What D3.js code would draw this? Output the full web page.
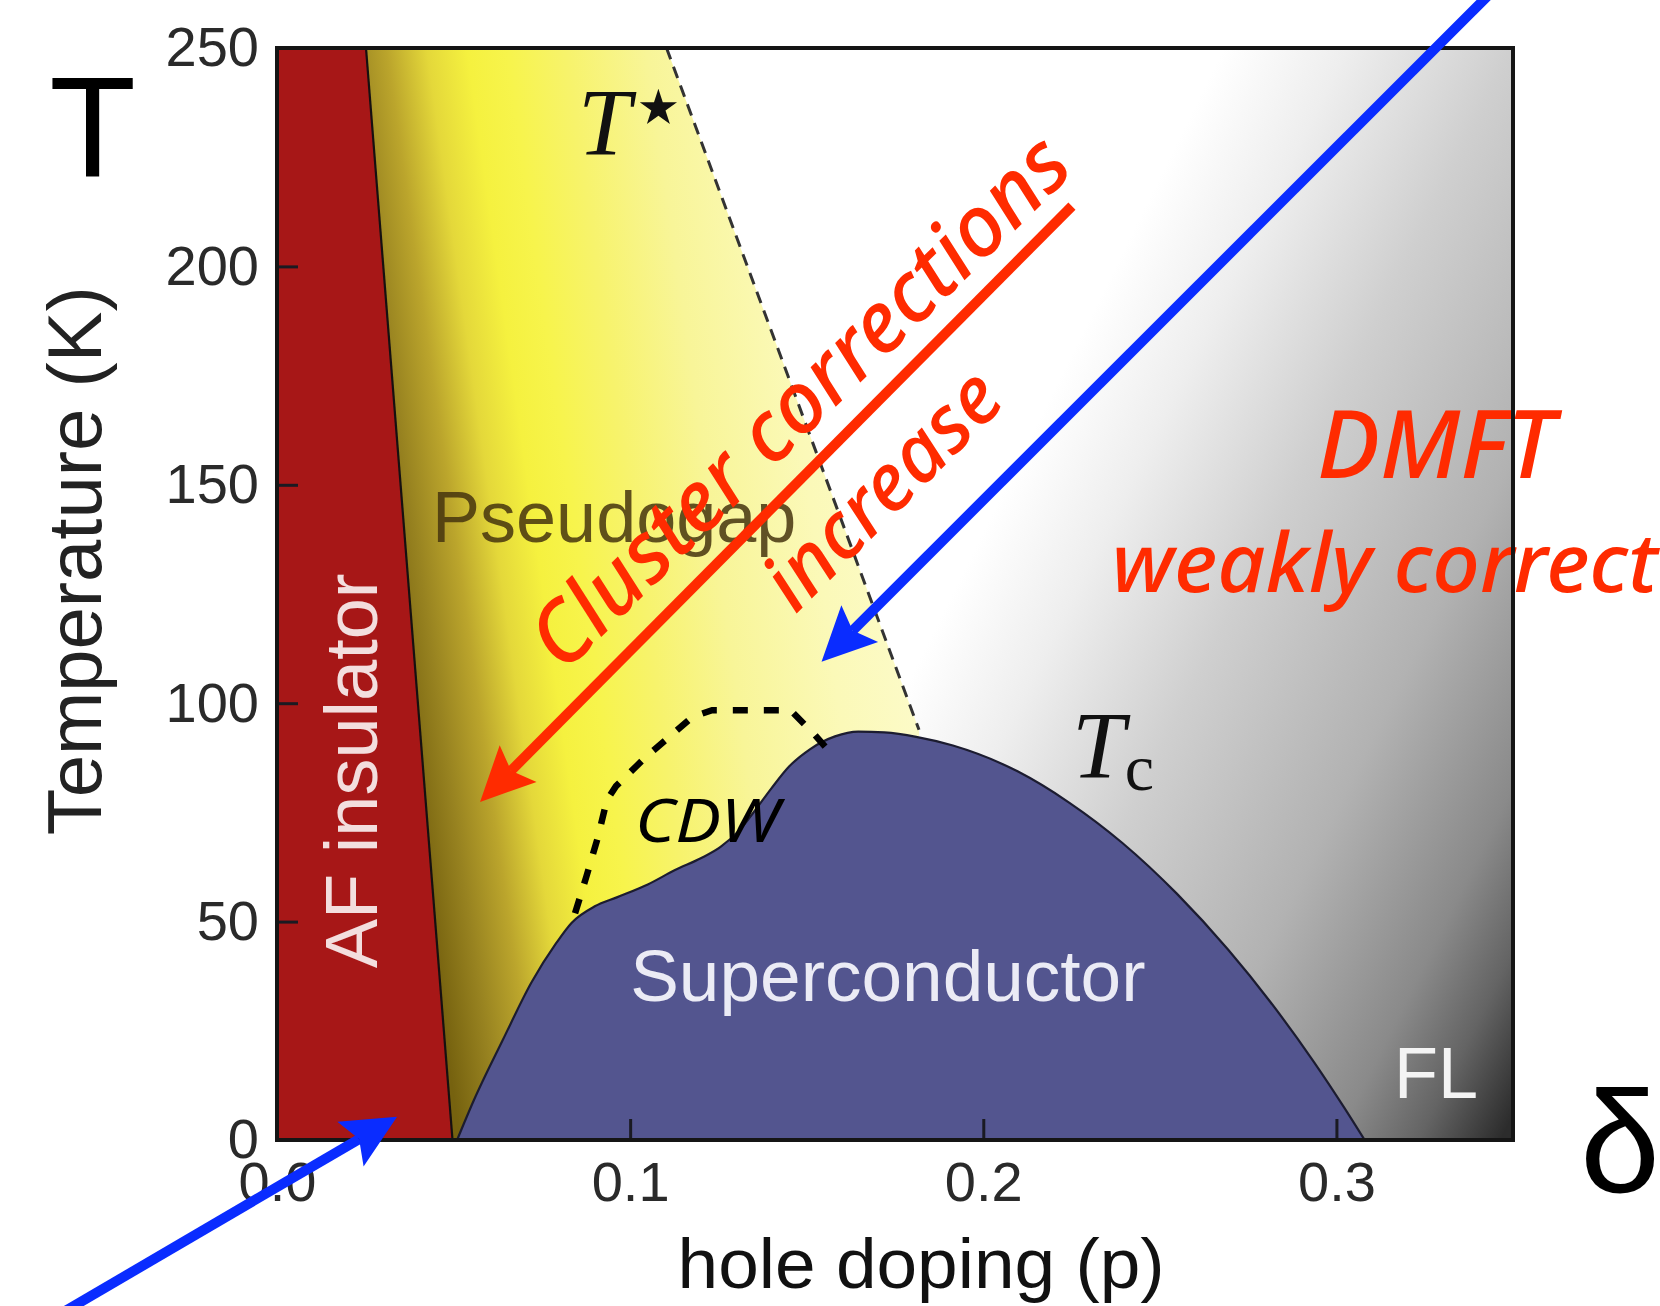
<!DOCTYPE html>
<html>
<head>
<meta charset="utf-8">
<script src="https://cdn.jsdelivr.net/npm/d3@7"></script>
<style>
  html, body { margin: 0; padding: 0; background: #ffffff; overflow: hidden; }
  svg { display: block; }
</style>
</head>
<body>
<svg id="chart" width="1660" height="1306"></svg>
<script>
// ---- Cuprate phase diagram: hole doping p vs temperature T (K) ----
const pDomain = [0, 0.35];
const tDomain = [0, 250];
const pTicks = [0, 0.1, 0.2, 0.3];
const pMinorTicks = [0.05, 0.15, 0.25];
const tTicks = [0, 50, 100, 150, 200, 250];
const tMinorTicks = [25, 75, 125, 175, 225];

// Antiferromagnetic insulator boundary (p, T)
const afBoundary = [[0.0252, 250], [0.0497, 0]];
// Pseudogap crossover T* (dashed)
const tStarLine = [[0.1103, 250], [0.1818, 93.9]];
// Superconducting dome Tc(p)
const tcDome = [
  [0.0510, 0], [0.0558, 9.2], [0.0640, 23.0], [0.0720, 36.0], [0.0790, 45.0],
  [0.0834, 49.7], [0.0900, 53.5], [0.0964, 55.6], [0.1050, 58.5], [0.1127, 61.8],
  [0.1200, 64.5], [0.1256, 67.1], [0.1310, 71.0], [0.1354, 75.5], [0.1400, 80.5],
  [0.1450, 85.5], [0.1510, 89.5], [0.1580, 92.4], [0.1646, 93.5], [0.1720, 93.3],
  [0.1810, 92.3], [0.1914, 90.3], [0.2097, 84.4], [0.2244, 77.2], [0.2394, 68.0],
  [0.2548, 56.4], [0.2693, 43.6], [0.2813, 31.6], [0.2936, 17.9], [0.3023, 7.3],
  [0.3080, 0]
];
// Charge density wave region boundary (dashed)
const cdwLine = [
  [0.0844, 51.9], [0.0876, 60.3], [0.0909, 69.4], [0.0934, 77.8], [0.0960, 81.0],
  [0.1042, 87.5], [0.1177, 96.9], [0.1232, 98.4], [0.1454, 98.4], [0.1519, 93.1],
  [0.1560, 89.3]
];
// Annotation arrows: [start, tip] in (p, T)
const clusterArrow = [[0.2251, 213.8], [0.0575, 77.4]];
const dmftArrow = [[0.3474, 265.6], [0.1542, 109.5]];
const afArrow = [[-0.0643, -41.2], [0.0340, 5.3]];

// ---- layout ----
const plot = { left: 277, top: 48, right: 1513, bottom: 1140 };
const x = d3.scaleLinear().domain(pDomain).range([plot.left, plot.right]);
const y = d3.scaleLinear().domain(tDomain).range([plot.bottom, plot.top]);

const SANS = "'Liberation Sans', Arial, Helvetica, sans-serif";
const SERIF = "'Liberation Serif', 'Times New Roman', serif";
const HUMAN = "'Noto Sans', 'Open Sans', sans-serif";
const RED = "#ff2b00";
const BLUE = "#0a2cff";

const svg = d3.select("#chart");
const defs = svg.append("defs");

defs.append("clipPath").attr("id", "plotClip")
  .append("rect")
  .attr("x", plot.left).attr("y", plot.top)
  .attr("width", plot.right - plot.left).attr("height", plot.bottom - plot.top);

// Fermi-liquid side: white fading to dark grey toward high doping / low T
const fermiGrad = defs.append("linearGradient").attr("id", "fermiGrad")
  .attr("gradientUnits", "userSpaceOnUse")
  .attr("x1", x(0.1760)).attr("y1", y(100.5))
  .attr("x2", x(0.3622)).attr("y2", y(25.4));
[[0, "#ffffff"], [0.15, "#eeeeee"], [0.35, "#cfcfcf"], [0.6, "#b2b2b2"],
 [0.8, "#8a8a8a"], [0.9, "#646464"], [1, "#2c2c2c"]]
  .forEach(([o, c]) => fermiGrad.append("stop").attr("offset", o).attr("stop-color", c));

// Pseudogap: dark olive at the AF edge, bright yellow, fading to pale
const pgGrad = defs.append("linearGradient").attr("id", "pgGrad")
  .attr("gradientUnits", "userSpaceOnUse")
  .attr("x1", x(0.0065)).attr("y1", y(261))
  .attr("x2", x(0.1732)).attr("y2", y(279.9));
[[0, "#76620f"], [0.0667, "#978220"], [0.133, "#bba52c"], [0.2, "#e4d83a"],
 [0.267, "#f5f13f"], [0.333, "#f7f44c"], [0.433, "#f7f36c"], [0.567, "#f8f598"],
 [0.733, "#fbf9b8"], [1, "#fdfcd8"]]
  .forEach(([o, c]) => pgGrad.append("stop").attr("offset", o).attr("stop-color", c));

const px = d => x(d[0]);
const py = d => y(d[1]);
const line = d3.line().x(px).y(py);

// ---- regions ----
const regions = svg.append("g").attr("clip-path", "url(#plotClip)");

regions.append("rect")
  .attr("x", plot.left).attr("y", plot.top)
  .attr("width", plot.right - plot.left).attr("height", plot.bottom - plot.top)
  .attr("fill", "url(#fermiGrad)");

const pgPoly = [afBoundary[0], tStarLine[0], tStarLine[1], [tStarLine[1][0], 0], afBoundary[1]];
regions.append("path").attr("d", line(pgPoly) + "Z").attr("fill", "url(#pgGrad)");

const dome = d3.area().x(px).y0(y(0)).y1(py).curve(d3.curveMonotoneX);
regions.append("path").datum(tcDome).attr("d", dome).attr("fill", "#53558f");

const afPoly = [[0, 0], [0, 250], afBoundary[0], afBoundary[1]];
regions.append("path").attr("d", line(afPoly) + "Z").attr("fill", "#a71717");

regions.append("path").datum(afBoundary).attr("d", line)
  .attr("fill", "none").attr("stroke", "#161010").attr("stroke-width", 2.2);

regions.append("path").datum(tcDome)
  .attr("d", d3.line().x(px).y(py).curve(d3.curveMonotoneX))
  .attr("fill", "none").attr("stroke", "#1c1c30").attr("stroke-width", 2.2);

regions.append("path").datum(tStarLine).attr("d", line)
  .attr("fill", "none").attr("stroke", "#333333").attr("stroke-width", 3)
  .attr("stroke-dasharray", "12,8");

regions.append("path").datum(cdwLine).attr("d", line)
  .attr("fill", "none").attr("stroke", "#000").attr("stroke-width", 6.5)
  .attr("stroke-dasharray", "15,16");

// ---- region labels ----
const labels = svg.append("g");

labels.append("text")
  .attr("x", x(0.0439)).attr("y", y(136.9))
  .attr("font-family", SANS).attr("font-size", 72)
  .attr("fill", "#45340e").attr("fill-opacity", 0.85)
  .text("Pseudogap");

labels.append("text")
  .attr("transform", `translate(${x(0.0283)},${y(84.5)}) rotate(-90)`)
  .attr("text-anchor", "middle")
  .attr("font-family", SANS).attr("font-size", 74)
  .attr("fill", "#f3dede")
  .text("AF insulator");

labels.append("text")
  .attr("x", x(0.1000)).attr("y", y(31.8))
  .attr("font-family", SANS).attr("font-size", 73)
  .attr("fill", "#ebebf5")
  .text("Superconductor");

labels.append("text")
  .attr("x", x(0.3163)).attr("y", y(9.6))
  .attr("font-family", SANS).attr("font-size", 72)
  .attr("fill", "#f4f4f4")
  .text("FL");

labels.append("text")
  .attr("x", x(0.0852)).attr("y", y(225.5))
  .attr("font-family", SERIF).attr("font-style", "italic").attr("font-size", 95)
  .attr("fill", "#111")
  .text("T");
labels.append("path")
  .attr("transform", `translate(${x(0.1080)},${y(236.2)})`)
  .attr("d", d3.symbol().type(d3.symbolStar).size(430)())
  .attr("fill", "#111");

const tc = labels.append("text")
  .attr("x", x(0.2251)).attr("y", y(82.9))
  .attr("font-family", SERIF).attr("fill", "#111");
tc.append("tspan").attr("font-style", "italic").attr("font-size", 95).text("T");
tc.append("tspan").attr("font-size", 66).attr("dy", 12).text("c");

labels.append("text")
  .attr("x", x(0.1014)).attr("y", y(68.2))
  .attr("font-family", HUMAN).attr("font-style", "italic").attr("font-size", 60)
  .attr("textLength", 144).attr("lengthAdjust", "spacingAndGlyphs")
  .attr("fill", "#000")
  .text("CDW");

// ---- DMFT annotation ----
labels.append("text")
  .attr("x", x(0.2945)).attr("y", y(151.6))
  .attr("font-family", HUMAN).attr("font-style", "italic").attr("font-weight", 500)
  .attr("font-size", 94).attr("fill", RED)
  .text("DMFT");
labels.append("text")
  .attr("x", x(0.2364)).attr("y", y(125.5))
  .attr("font-family", HUMAN).attr("font-style", "italic").attr("font-weight", 500)
  .attr("font-size", 82).attr("fill", RED)
  .attr("textLength", 546).attr("lengthAdjust", "spacingAndGlyphs")
  .text("weakly correct");

// ---- axes ----
const axes = svg.append("g");

const xAxisG = axes.append("g").attr("transform", `translate(0,${plot.bottom})`);
xAxisG.call(d3.axisBottom(x).tickValues(pMinorTicks).tickFormat("").tickSize(-12));
xAxisG.call(d3.axisBottom(x).tickValues(pTicks).tickFormat(d3.format(".1f")).tickSize(-21).tickPadding(21));

const yAxisG = axes.append("g").attr("transform", `translate(${plot.left},0)`);
yAxisG.call(d3.axisLeft(y).tickValues(tMinorTicks).tickFormat("").tickSize(-12));
yAxisG.call(d3.axisLeft(y).tickValues(tTicks).tickFormat(d3.format("d")).tickSize(-21).tickPadding(18));

axes.selectAll(".domain").remove();
axes.selectAll(".tick line").attr("stroke", "#1a1a22").attr("stroke-width", 3);
axes.selectAll(".tick text")
  .attr("font-family", SANS).attr("font-size", 56).attr("fill", "#2a2a2a");

// frame
axes.append("rect")
  .attr("x", plot.left).attr("y", plot.top)
  .attr("width", plot.right - plot.left).attr("height", plot.bottom - plot.top)
  .attr("fill", "none").attr("stroke", "#151515").attr("stroke-width", 4);

// axis titles
axes.append("text")
  .attr("x", x(0.1824)).attr("y", 1288)
  .attr("text-anchor", "middle")
  .attr("font-family", SANS).attr("font-size", 70)
  .attr("textLength", 487).attr("lengthAdjust", "spacingAndGlyphs")
  .attr("fill", "#111")
  .text("hole doping (p)");

axes.append("text")
  .attr("transform", `translate(101,${y(132.6)}) rotate(-90)`)
  .attr("text-anchor", "middle")
  .attr("font-family", SANS).attr("font-size", 76)
  .attr("fill", "#222")
  .text("Temperature (K)");

// ---- arrows ----
function arrow(g, pts, color) {
  const s = [x(pts[0][0]), y(pts[0][1])];
  const e = [x(pts[1][0]), y(pts[1][1])];
  const dx = e[0] - s[0], dy = e[1] - s[1];
  const len = Math.hypot(dx, dy);
  const u = [dx / len, dy / len];
  const v = [-u[1], u[0]];
  const headLen = 54, halfW = 26, notch = 10;
  const b = [e[0] - u[0] * headLen, e[1] - u[1] * headLen];
  const n = [e[0] - u[0] * (headLen - notch), e[1] - u[1] * (headLen - notch)];
  g.append("line")
    .attr("x1", s[0]).attr("y1", s[1]).attr("x2", n[0]).attr("y2", n[1])
    .attr("stroke", color).attr("stroke-width", 10);
  g.append("path")
    .attr("d", d3.line()([e, [b[0] + v[0] * halfW, b[1] + v[1] * halfW], n,
                          [b[0] - v[0] * halfW, b[1] - v[1] * halfW]]) + "Z")
    .attr("fill", color);
}

const notes = svg.append("g");

notes.append("text")
  .attr("transform", `translate(${x(0.1487)},${y(168.5)}) rotate(-44.5)`)
  .attr("text-anchor", "middle").attr("dy", "0.3em")
  .attr("font-family", HUMAN).attr("font-style", "italic").attr("font-weight", 500)
  .attr("font-size", 85).attr("fill", RED)
  .text("Cluster corrections");

notes.append("text")
  .attr("transform", `translate(${x(0.1720)},${y(148.4)}) rotate(-45)`)
  .attr("text-anchor", "middle").attr("dy", "0.3em")
  .attr("font-family", HUMAN).attr("font-style", "italic").attr("font-weight", 500)
  .attr("font-size", 80).attr("fill", RED)
  .text("increase");

arrow(notes, clusterArrow, RED);
arrow(notes, dmftArrow, BLUE);
arrow(notes, afArrow, BLUE);

// ---- big axis symbols ----
svg.append("text")
  .attr("x", 92.5).attr("y", 177)
  .attr("text-anchor", "middle")
  .attr("font-family", SANS).attr("font-size", 142)
  .attr("fill", "#000")
  .text("T");

svg.append("text")
  .attr("x", 1580).attr("y", 1192)
  .attr("font-family", SANS).attr("font-size", 144)
  .attr("fill", "#000")
  .text("δ");
</script>
</body>
</html>
